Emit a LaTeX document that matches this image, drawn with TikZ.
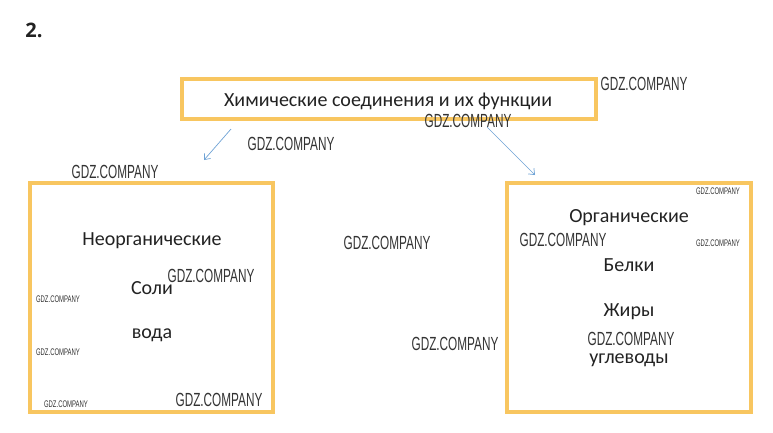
\documentclass[tikz,border=0pt]{standalone}
\usepackage{fontspec}
\setmainfont{Carlito}
\newfontfamily\wmfont{Liberation Sans}
\newfontfamily\numfont{Open Sans}
\definecolor{boxgold}{HTML}{F8C660}
\definecolor{arrblue}{HTML}{6FA3D6}
\definecolor{txt}{HTML}{222222}
\definecolor{wm}{HTML}{333333}
\tikzset{
  goldbox/.style={draw=boxgold, line width=4.5pt, fill=white},
  label/.style={text=txt, font=\fontsize{20}{24}\selectfont, inner sep=0pt},
  wmbig/.style={text=wm, font=\wmfont\fontsize{19}{20}\selectfont, xscale=0.62, inner sep=0pt},
  wmsmall/.style={text=wm, font=\wmfont\fontsize{9.6}{10}\selectfont, xscale=0.62, inner sep=0pt},
  conn/.style={draw=arrblue, line width=0.7pt, -{Straight Barb[length=5pt,width=8pt]}},
}
\usetikzlibrary{arrows.meta}
\begin{document}
\begin{tikzpicture}[x=1pt,y=-1pt]
\useasboundingbox (0,0) rectangle (773,432);
\fill[white] (0,0) rectangle (773,432);
\node[font=\numfont\bfseries\fontsize{20}{24}\selectfont, text=txt, inner sep=0pt] (num) at (34,30) {2.};
% boxes
\draw[goldbox] (182,79) rectangle (596,119);
\draw[goldbox] (30,183) rectangle (273,412);
\draw[goldbox] (507,183) rectangle (751,412);
\node[label] (title) at (388,101) {Химические соединения и их функции};
\node[label] (inorg) at (152,241) {Неорганические};
\node[label] (soli) at (152,288) {Соли};
\node[label] (voda) at (152,335) {вода};
\node[label] (org) at (629,218) {Органические};
\node[label] (belki) at (629,265) {Белки};
\node[label] (zhiry) at (629,312) {Жиры};
\node[label] (ugl) at (629,360) {углеводы};
% arrows
\coordinate (a1s) at (231,129);
\coordinate (a1e) at (204,160);
\coordinate (a2s) at (487,127);
\coordinate (a2e) at (535,175);
\draw[conn] (a1s) -- (a1e);
\draw[conn] (a2s) -- (a2e);
% watermarks
\node[wmbig] (w1) at (644,84) {GDZ.COMPANY};
\node[wmbig] (w2) at (468,121) {GDZ.COMPANY};
\node[wmbig] (w3) at (291,144) {GDZ.COMPANY};
\node[wmbig] (w4) at (115,172) {GDZ.COMPANY};
\node[wmbig] (w5) at (387,243) {GDZ.COMPANY};
\node[wmbig] (w6) at (211,276) {GDZ.COMPANY};
\node[wmbig] (w7) at (563,240) {GDZ.COMPANY};
\node[wmbig] (w8) at (455,344) {GDZ.COMPANY};
\node[wmbig] (w9) at (631,339) {GDZ.COMPANY};
\node[wmbig] (w10) at (219,400) {GDZ.COMPANY};
\node[wmsmall] (s1) at (58,299) {GDZ.COMPANY};
\node[wmsmall] (s2) at (58,352) {GDZ.COMPANY};
\node[wmsmall] (s3) at (66,404) {GDZ.COMPANY};
\node[wmsmall] (s4) at (718,191) {GDZ.COMPANY};
\node[wmsmall] (s5) at (718,243) {GDZ.COMPANY};
\end{tikzpicture}
\end{document}
